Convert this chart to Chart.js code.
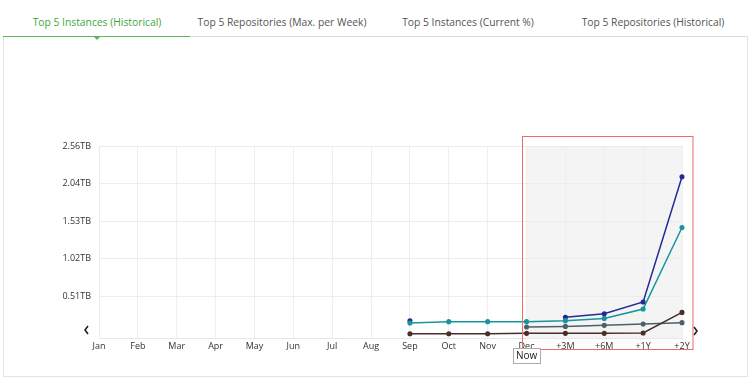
<!DOCTYPE html>
<html>
<head>
<meta charset="utf-8">
<script src="https://cdn.jsdelivr.net/npm/chart.js@4/dist/chart.umd.min.js"></script>
<style>
  body { margin: 0; background: #fff; font-family: 'Open Sans', sans-serif; }
  #wrap { position: relative; width: 750px; height: 380px; overflow: hidden; }
  #box { position: absolute; left: 3px; top: 36px; width: 743px; height: 340px;
         border: 1px solid #e3e3e3; border-top: none; }
  .tabline { position: absolute; top: 36px; height: 1px; background: #dcdcdc; }
  .tab { position: absolute; top: 15px; font-size: 10.3px; color: #555; text-align: center;
         white-space: nowrap; transform: translateX(-50%); }
  .tab.active { color: #3ea73c; }
  #caret { position: absolute; left: 93px; top: 36px; width: 0; height: 0;
           border-left: 4px solid transparent; border-right: 4px solid transparent;
           border-top: 4px solid #5cb85c; }
  canvas { position: absolute; left: 0; top: 0; }
</style>
</head>
<body>
<div id="wrap">
  <div id="box"></div>
  <div class="tabline" style="left:3px;width:744px;"></div>
  <div class="tabline" style="left:3px;width:187px;background:#5cb85c;"></div>
  <div id="caret"></div>
  <div class="tab active" style="left:97px;">Top 5 Instances (Historical)</div>
  <div class="tab" style="left:282px;">Top 5 Repositories (Max. per Week)</div>
  <div class="tab" style="left:468px;">Top 5 Instances (Current %)</div>
  <div class="tab" style="left:653px;">Top 5 Repositories (Historical)</div>
  <canvas id="chart" width="750" height="380"></canvas>
</div>
<script>
// values in TB
var labels = ['Jan','Feb','Mar','Apr','May','Jun','Jul','Aug','Sep','Oct','Nov','Dec','+3M','+6M','+1Y','+2Y'];
var blueSeries  = [null,null,null,null,null,null,null,null,0.18,null,null,null,0.226,0.276,0.436,2.14];
var tealSeries  = [null,null,null,null,null,null,null,null,0.15,0.168,0.168,0.168,0.181,0.212,0.34,1.45];
var slateSeries = [null,null,null,null,null,null,null,null,null,null,null,0.095,0.103,0.117,0.136,0.154];
var brownSeries = [null,null,null,null,null,null,null,null,0.002,0.002,0.002,0.008,0.008,0.008,0.014,0.294];
var yTicks = [0.512, 1.024, 1.536, 2.048, 2.56];
var forecastFrom = 'Dec';
var forecastTo = '+2Y';

function ds(data, color) {
  return {
    data: data,
    borderColor: color,
    backgroundColor: color,
    borderWidth: 1.5,
    pointRadius: 1.8,
    pointHoverRadius: 3,
    tension: 0,
    spanGaps: false
  };
}

var forecastPlugin = {
  id: 'forecast',
  beforeDraw: function(chart) {
    var ctx = chart.ctx, a = chart.chartArea, x = chart.scales.x;
    var x0 = x.getPixelForValue(labels.indexOf(forecastFrom));
    var x1 = x.getPixelForValue(labels.indexOf(forecastTo));
    ctx.save();
    ctx.fillStyle = '#f4f4f4';
    ctx.fillRect(x0, a.top, x1 - x0, a.bottom - a.top);
    ctx.restore();
  },
  afterDraw: function(chart) {
    var ctx = chart.ctx, a = chart.chartArea, x = chart.scales.x;
    var x0 = x.getPixelForValue(labels.indexOf(forecastFrom));
    var x1 = x.getPixelForValue(labels.indexOf(forecastTo));
    ctx.save();
    // red frame
    ctx.strokeStyle = '#ec6a6a';
    ctx.lineWidth = 1;
    ctx.strokeRect(Math.round(x0 - 5) + 0.5, a.top - 9.5, x1 - x0 + 15, a.bottom - a.top + 21);
    // "Now" label
    ctx.font = '10px "Open Sans"';
    var w = ctx.measureText('Now').width + 6;
    ctx.fillStyle = '#fff';
    ctx.fillRect(x0 - w / 2, a.bottom + 11, w, 15);
    ctx.strokeStyle = '#aaa';
    ctx.strokeRect(Math.round(x0 - w / 2) + 0.5, a.bottom + 10.5, Math.round(w), 15);
    ctx.fillStyle = '#222';
    ctx.textAlign = 'center';
    ctx.textBaseline = 'middle';
    ctx.fillText('Now', x0, a.bottom + 18.5);
    // scroll arrows
    ctx.strokeStyle = '#222';
    ctx.lineWidth = 1.6;
    ctx.beginPath();
    ctx.moveTo(a.left - 11, a.bottom - 12);
    ctx.lineTo(a.left - 14, a.bottom - 8);
    ctx.lineTo(a.left - 11, a.bottom - 4);
    ctx.moveTo(a.right + 12, a.bottom - 11);
    ctx.lineTo(a.right + 15, a.bottom - 7);
    ctx.lineTo(a.right + 12, a.bottom - 3);
    ctx.stroke();
    ctx.restore();
  }
};

new Chart(document.getElementById('chart'), {
  type: 'line',
  data: {
    labels: labels,
    datasets: [
      ds(brownSeries, '#4a2d2a'),
      ds(slateSeries, '#4b6069'),
      ds(tealSeries, '#16959c'),
      ds(blueSeries, '#252a94')
    ]
  },
  options: {
    responsive: false,
    animation: false,
    layout: { padding: { left: 0, right: 68, top: 146, bottom: 0 } },
    plugins: { legend: { display: false }, tooltip: { enabled: false } },
    scales: {
      x: {
        grid: { color: '#efefef', drawTicks: false },
        border: { color: '#e6e6e6' },
        ticks: { color: '#333', font: { family: 'Open Sans', size: 9 }, padding: 3,
                 maxRotation: 0, autoSkip: false },
        afterFit: function(s) { s.height = 42; }
      },
      y: {
        min: -0.055,
        max: 2.56,
        afterBuildTicks: function(s) { s.ticks = yTicks.map(function(v) { return { value: v }; }); },
        grid: { color: '#ececec', drawTicks: false },
        border: { color: '#ececec' },
        ticks: {
          color: '#333', font: { family: 'Open Sans', size: 9 }, padding: 8,
          callback: function(v) { return (Math.floor(v * 100) / 100).toFixed(2) + 'TB'; }
        },
        afterFit: function(s) { s.width = 99; }
      }
    }
  },
  plugins: [forecastPlugin]
});
</script>
</body>
</html>
